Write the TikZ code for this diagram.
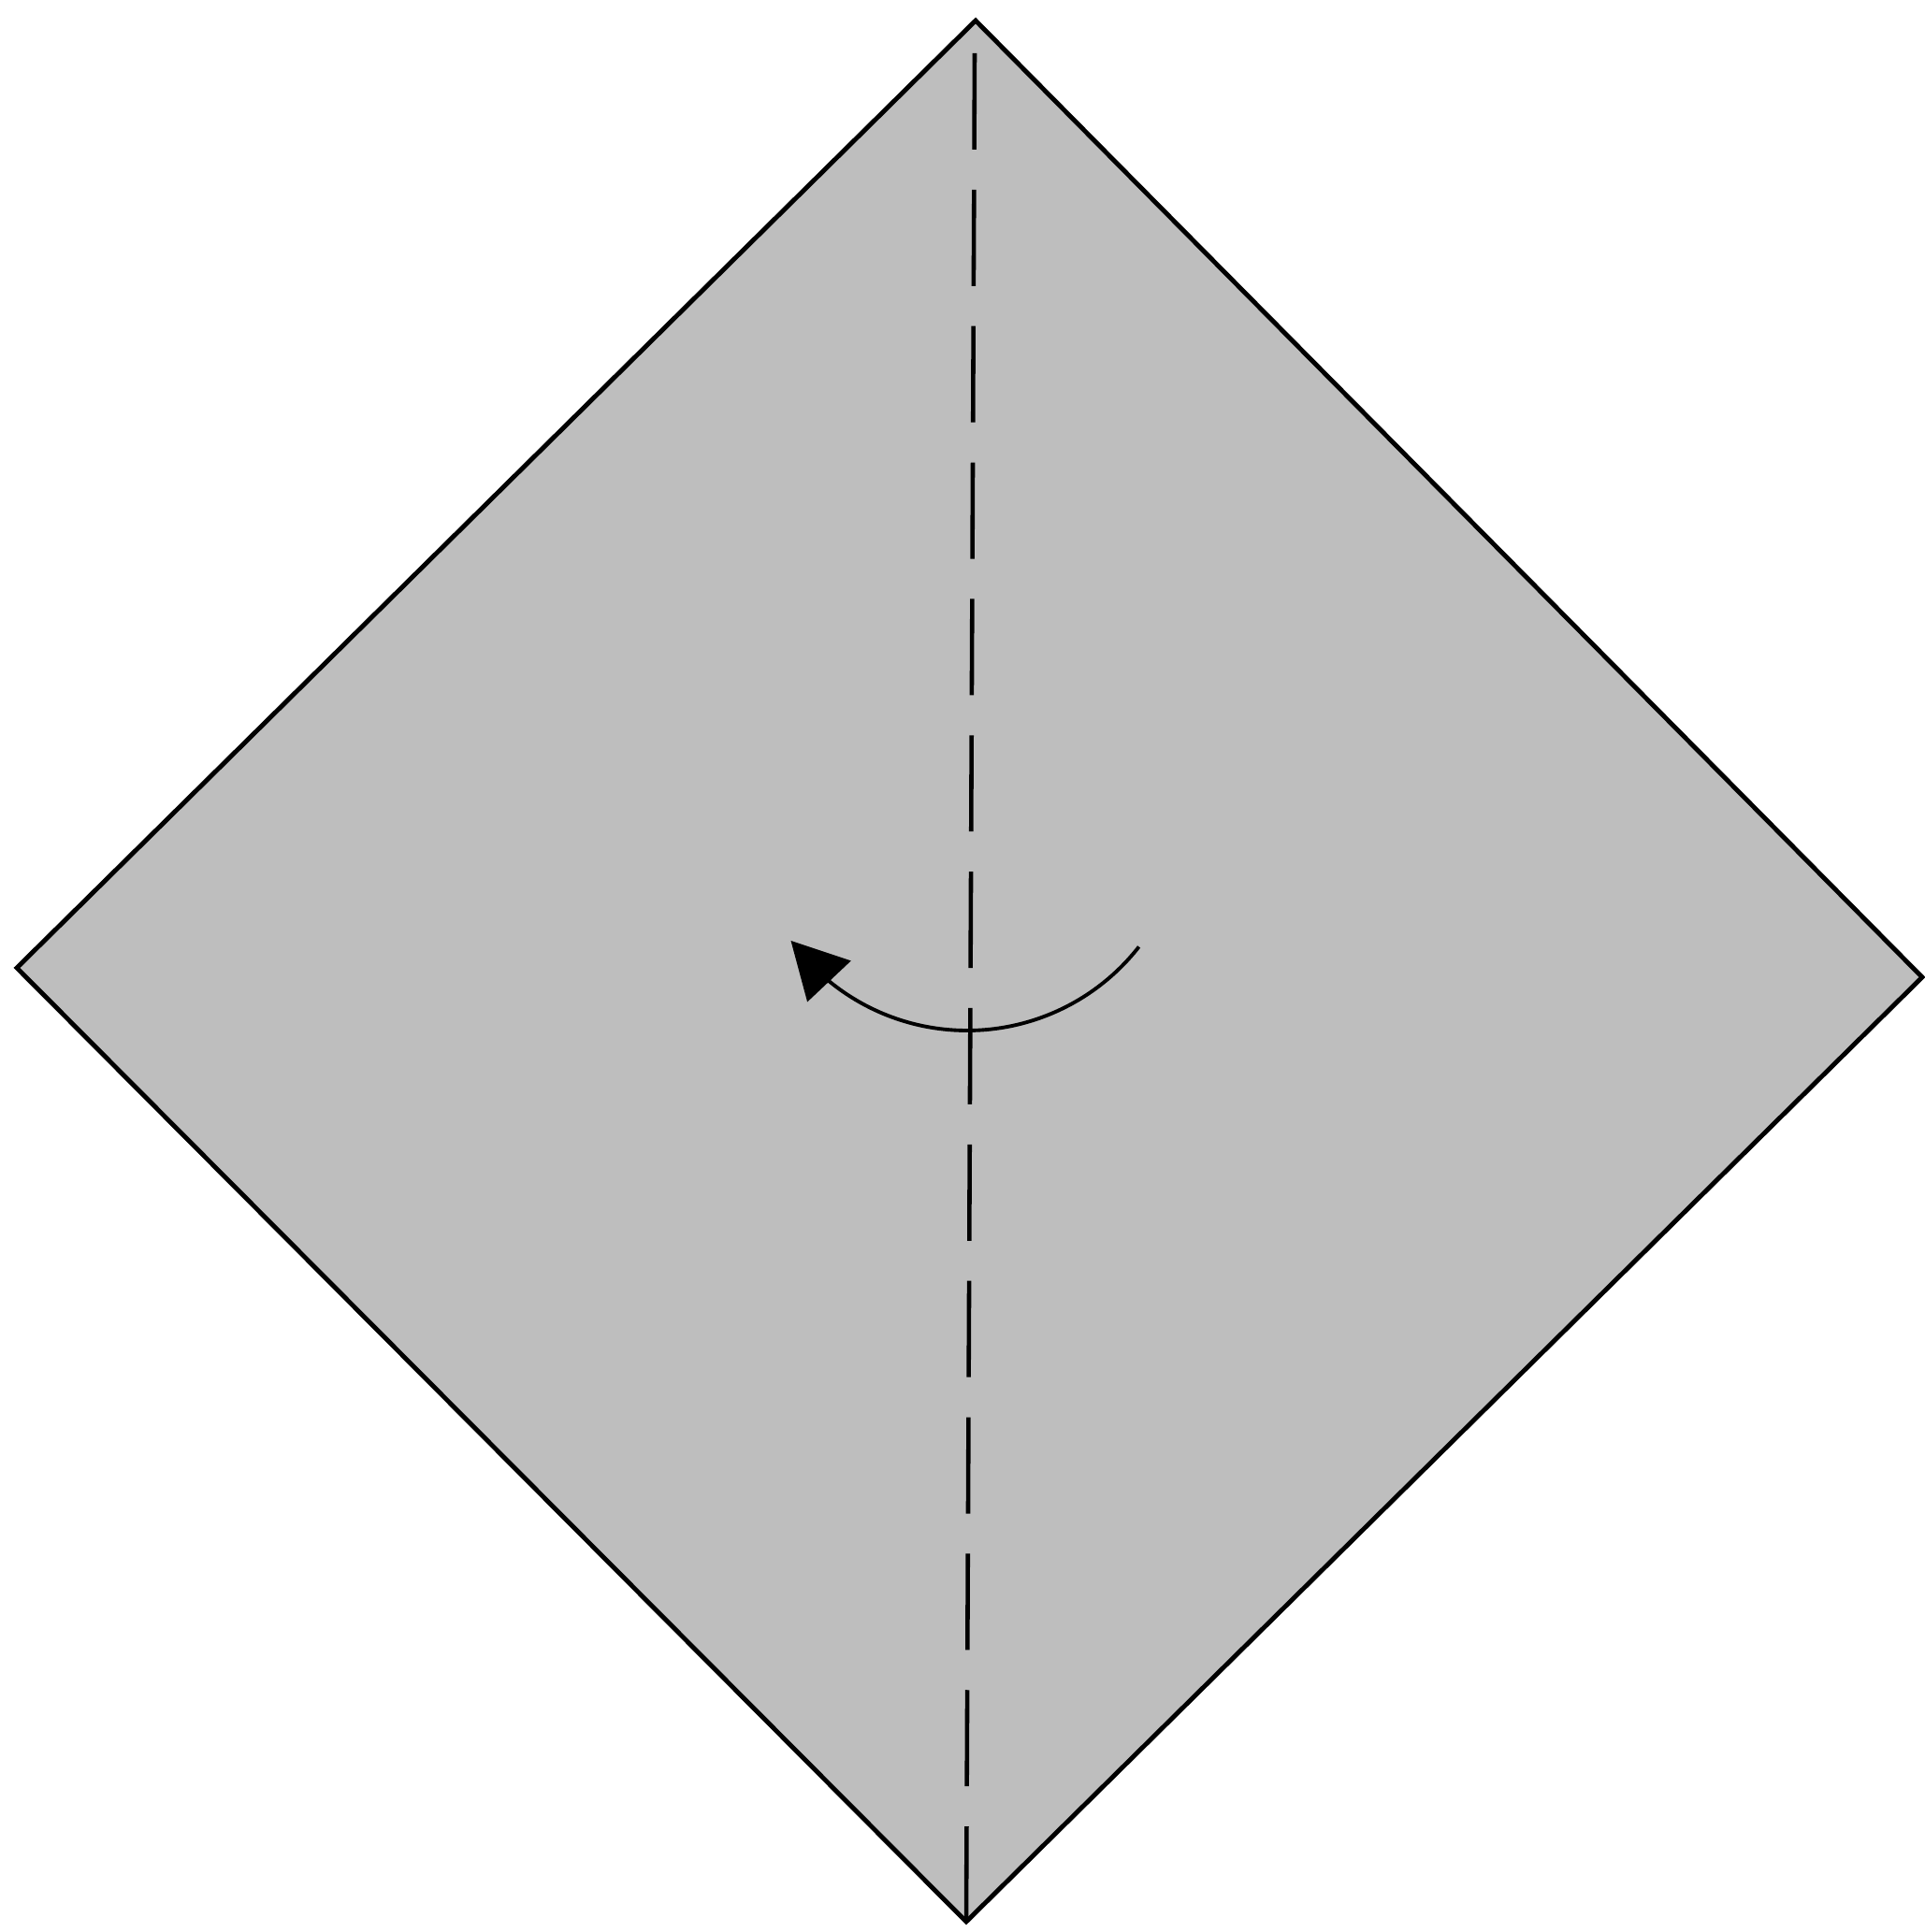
\documentclass[tikz,border=0pt]{standalone}
\usetikzlibrary{arrows.meta,bending}
\definecolor{papergray}{RGB}{190,190,190}
\begin{document}
\begin{tikzpicture}[x=1cm,y=1cm,
  paper/.style={fill=papergray, draw=black, line width=1.4pt, line join=miter},
  crease/.style={draw=black, line width=1.3pt, dash pattern=on 29.3pt off 12.2pt},
  foldarrow/.style={draw=black, line width=1.1pt, -{Triangle[length=17pt,width=18pt,flex]}}]
\useasboundingbox (0,0) rectangle (20.58,20.66);
\coordinate (T) at (10.43,20.44);
\coordinate (L) at (0.18,10.31);
\coordinate (R) at (20.55,10.21);
\coordinate (B) at (10.33,0.11);
\coordinate (Ct) at (10.42,20.09);
\path[paper] (T) -- (R) -- (B) -- (L) -- cycle;
\draw[crease] (Ct) -- (B);
\coordinate (O) at (10.34,11.97);
\draw[foldarrow] (O) ++(-38:2.33) arc[start angle=-38, end angle=-144, radius=2.33];
\end{tikzpicture}
\end{document}
